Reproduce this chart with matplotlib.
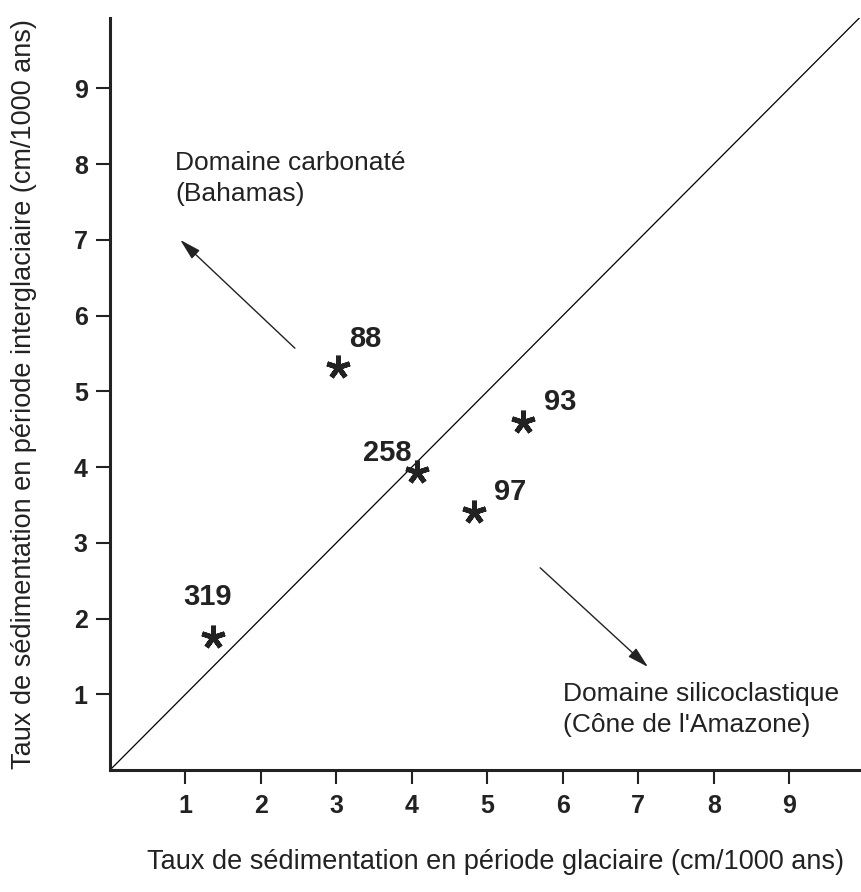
import numpy as np
import matplotlib.pyplot as plt

# sites: glacial vs interglacial sedimentation rates (cm/1000 ans)
sites = ["88", "93", "258", "97", "319"]
glaciaire = [3.02, 5.47, 4.07, 4.83, 1.36]
interglaciaire = [5.32, 4.60, 3.94, 3.41, 1.76]
ticks = [1, 2, 3, 4, 5, 6, 7, 8, 9]

plt.rcParams['font.family'] = ['Liberation Sans', 'DejaVu Sans']

fig = plt.figure(figsize=(8.61, 8.92), dpi=100)
ax = fig.add_axes([0.1278, 0.1368, 0.872, 0.843])

xmax, ymax = 9.95, 9.93
ax.set_xlim(0, xmax)
ax.set_ylim(0, ymax)

# 1:1 line
ax.plot([0, 10], [0, 10], color="black", lw=0.9)

ax.plot(glaciaire, interglaciaire, linestyle="none", marker=(5, 2, 0),
        markersize=17, markeredgewidth=3.6, color="#222222")

offsets = {"88": (0.36, 0.37), "93": (0.49, 0.26), "258": (-0.4, 0.24),
           "97": (0.47, 0.26), "319": (-0.07, 0.52)}
for s, x, y in zip(sites, glaciaire, interglaciaire):
    dx, dy = offsets[s]
    ax.text(x + dx, y + dy, s, ha="center", va="center", fontsize=21,
            fontweight="bold", color="#222222")

# arrows
arrow = dict(arrowstyle="-|>,head_length=1.3,head_width=0.35", lw=1.0,
             color="#222222", shrinkA=0, shrinkB=0)
ax.annotate("", xy=(0.93, 7.0), xytext=(2.45, 5.57), arrowprops=arrow)
ax.annotate("", xy=(7.13, 1.36), xytext=(5.70, 2.67), arrowprops=arrow)

ax.text(0.86, 7.81, "Domaine carbonaté\n(Bahamas)", ha="left", va="center",
        fontsize=19, linespacing=1.4, color="#222222")
ax.text(6.0, 0.80, "Domaine silicoclastique\n(Cône de l'Amazone)", ha="left",
        va="center", fontsize=19, linespacing=1.4, color="#222222")

ax.set_xticks(ticks)
ax.set_yticks(ticks)
ax.tick_params(axis="both", direction="out", length=10, width=1.5,
               labelsize=18, colors="#222222")
ax.tick_params(axis="x", pad=7)
ax.tick_params(axis="y", pad=6)
for lab in ax.get_xticklabels() + ax.get_yticklabels():
    lab.set_fontweight("bold")

for side in ["top", "right"]:
    ax.spines[side].set_visible(False)
for side in ["left", "bottom"]:
    ax.spines[side].set_linewidth(2.2)
    ax.spines[side].set_color("#222222")

ax.set_xlabel("Taux de sédimentation en période glaciaire (cm/1000 ans)",
              fontsize=19.5, color="#222222")
ax.set_ylabel("Taux de sédimentation en période interglaciaire (cm/1000 ans)",
              fontsize=19.5, color="#222222")
ax.xaxis.set_label_coords(0.513, -0.105)
ax.yaxis.set_label_coords(-0.097, 0.5)

fig.savefig("out.png", dpi=100)
